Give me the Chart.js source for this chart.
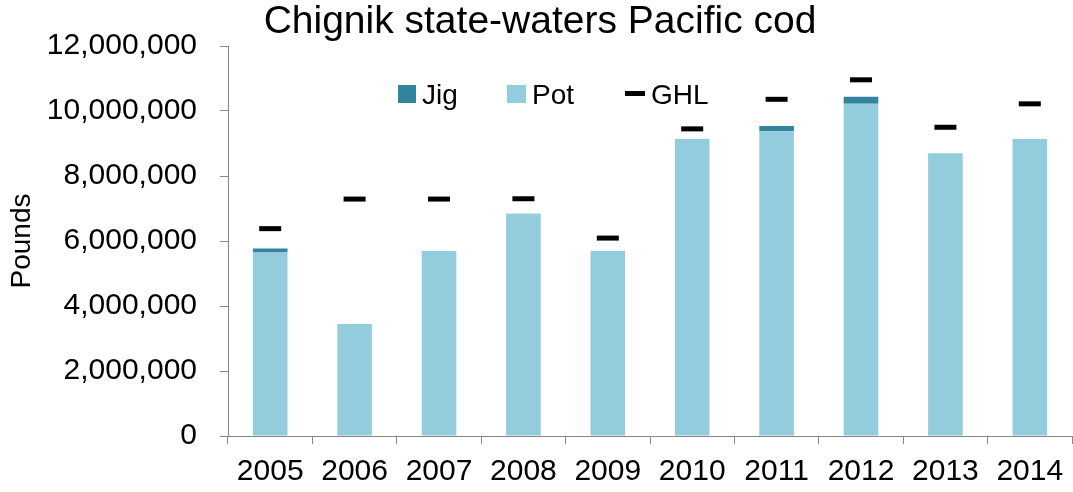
<!DOCTYPE html>
<html><head><meta charset="utf-8">
<script src="https://cdn.jsdelivr.net/npm/chart.js@4/dist/chart.umd.min.js"></script>
<style>html,body{margin:0;padding:0;background:#fff}#wrap{width:1073px;height:492px}</style>
</head><body><div id="wrap"><canvas id="c" width="1073" height="492"></canvas></div>
<script>
const years = ['2005','2006','2007','2008','2009','2010','2011','2012','2013','2014'];
const potLbs = [5650000, 3450000, 5690000, 6850000, 5690000, 9140000, 9375000, 10220000, 8700000, 9140000];
const jigLbs = [120000, 0, 0, 0, 0, 0, 165000, 220000, 0, 0];
const ghlLbs = [6380000, 7290000, 7290000, 7300000, 6090000, 9450000, 10360000, 10960000, 9500000, 10220000];
const yTicks = [0, 2000000, 4000000, 6000000, 8000000, 10000000, 12000000];
const titleText = 'Chignik state-waters Pacific cod';
const yTitle = 'Pounds';

const FONT = "'Liberation Sans', Arial, sans-serif";
const AXIS = '#868686';
const POT = '#93CDDD';
const JIG = '#31859C';

const overlay = {
  id: 'overlay',
  afterDraw(chart) {
    const ctx = chart.ctx;
    ctx.save();
    ctx.fillStyle = '#000';
    ctx.font = '39px ' + FONT;
    ctx.textAlign = 'center';
    ctx.textBaseline = 'alphabetic';
    ctx.fillText(titleText, 540, 33);
    // legend
    ctx.font = '28px ' + FONT;
    ctx.textAlign = 'left';
    const ds = chart.data.datasets;
    const jig = ds[1], pot = ds[0], ghl = ds[2];
    ctx.fillStyle = jig.backgroundColor; ctx.fillRect(398, 85, 18, 18);
    ctx.fillStyle = '#000'; ctx.fillText(jig.label, 422, 104);
    ctx.fillStyle = pot.backgroundColor; ctx.fillRect(507, 85, 19, 18);
    ctx.fillStyle = '#000'; ctx.fillText(pot.label, 532, 104);
    ctx.fillStyle = ghl.borderColor; ctx.fillRect(625, 91, 20, 5);
    ctx.fillStyle = '#000'; ctx.fillText(ghl.label, 651, 104);
    ctx.restore();
  }
};

new Chart(document.getElementById('c'), {
  data: {
    labels: years,
    datasets: [
      { type: 'bar', label: 'Pot', data: potLbs, backgroundColor: POT, stack: 'catch', barPercentage: 0.41, categoryPercentage: 1, order: 2 },
      { type: 'bar', label: 'Jig', data: jigLbs, backgroundColor: JIG, stack: 'catch', barPercentage: 0.41, categoryPercentage: 1, order: 2 },
      { type: 'line', label: 'GHL', data: ghlLbs, stack: 'ghl', showLine: false, pointStyle: 'line', pointRadius: 11, pointHoverRadius: 11, borderColor: '#000', backgroundColor: '#000', pointBorderWidth: 5, borderWidth: 5, order: 1, clip: false }
    ]
  },
  options: {
    responsive: false,
    animation: false,
    devicePixelRatio: 1,
    layout: { autoPadding: false, padding: { top: 46, right: 1, left: 0, bottom: 0 } },
    plugins: { legend: { display: false }, title: { display: false }, tooltip: { enabled: false } },
    scales: {
      x: {
        stacked: true,
        offset: true,
        grid: { offset: true, drawOnChartArea: false, tickLength: 8, color: AXIS, lineWidth: 1 },
        border: { color: AXIS, width: 1 },
        ticks: { font: { family: FONT, size: 30 }, color: '#000', padding: 10, maxRotation: 0, autoSkip: false },
        afterFit: s => { s.height = 56; s.paddingLeft = 0; s.paddingRight = 0; }
      },
      y: {
        stacked: true,
        min: 0, max: 12000000,
        afterBuildTicks: s => { s.ticks = yTicks.map(v => ({ value: v })); },
        grid: { drawOnChartArea: false, tickLength: 8, color: AXIS, lineWidth: 1 },
        border: { color: AXIS, width: 1 },
        ticks: { font: { family: FONT, size: 30 }, color: '#000', padding: 23, callback: v => Number(v).toLocaleString('en-US') },
        title: { display: true, text: yTitle, font: { family: FONT, size: 28 }, color: '#000', padding: { top: 5, bottom: 0 } },
        afterFit: s => { s.width = 228; }
      }
    }
  },
  plugins: [overlay]
});
</script></body></html>
